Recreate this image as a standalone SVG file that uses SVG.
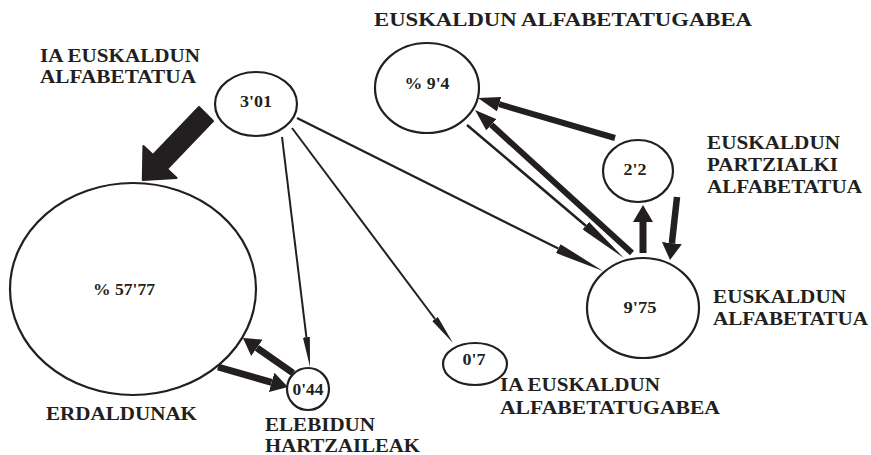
<svg xmlns="http://www.w3.org/2000/svg" width="871" height="455" viewBox="0 0 871 455">
<style>
.node{fill:#fff;stroke:#231f20;stroke-width:2.2}
.lbl{font-family:"Liberation Serif","Times New Roman",serif;font-weight:bold;font-size:19px;fill:#231f20}
.val{font-family:"Liberation Serif","Times New Roman",serif;font-weight:bold;font-size:16px;fill:#231f20;text-anchor:middle}
.c{stroke:#231f20;fill:none;stroke-linecap:butt}
.hd{fill:#231f20}
</style>
<defs>
<marker id="big" markerUnits="userSpaceOnUse" markerWidth="17" markerHeight="20" viewBox="0 0 17 20" refX="0" refY="10" orient="auto"><path class="hd" d="M0,0 L17,10 L0,20 z"/></marker>
<marker id="mid" markerUnits="userSpaceOnUse" markerWidth="22" markerHeight="15" viewBox="0 0 22 15" refX="0" refY="7.5" orient="auto"><path class="hd" d="M0,0 L22,7.5 L0,15 z"/></marker>
<marker id="long" markerUnits="userSpaceOnUse" markerWidth="50" markerHeight="10" viewBox="0 0 50 10" refX="0" refY="5" orient="auto"><path class="hd" d="M0,0 L50,5 L0,10 z"/></marker>
<marker id="thin" markerUnits="userSpaceOnUse" markerWidth="30" markerHeight="7" viewBox="0 0 30 7" refX="0" refY="3.5" orient="auto"><path class="hd" d="M0,0 L30,3.5 L0,7 z"/></marker>
</defs>
<rect width="871" height="455" fill="#fff"/>
<g id="connectors">
<polygon class="hd" stroke="#231f20" stroke-width="2" stroke-linejoin="round" points="199,107 213,121 167,169 176.6,177.9 142.8,180 143.4,146.1 153,155"/>
<line class="c" stroke-width="2" x1="282" y1="137" x2="306.4" y2="337.2" marker-end="url(#thin)"/>
<line class="c" stroke-width="2" x1="292" y1="128" x2="435" y2="319" marker-end="url(#thin)"/>
<line class="c" stroke-width="2.2" x1="297" y1="118" x2="558.3" y2="248.6" marker-end="url(#long)"/>
<line class="c" stroke-width="6" x1="632" y1="253" x2="491.3" y2="124.8" marker-end="url(#mid)"/>
<line class="c" stroke-width="2.5" x1="467" y1="125" x2="585.8" y2="225.7" marker-end="url(#long)"/>
<line class="c" stroke-width="6" x1="615" y1="138" x2="499.1" y2="104.2" marker-end="url(#mid)"/>
<line class="c" stroke-width="7" x1="643" y1="253" x2="643" y2="222" marker-end="url(#big)"/>
<line class="c" stroke-width="6.5" x1="677" y1="197" x2="671.9" y2="243.1" marker-end="url(#big)"/>
<line class="c" stroke-width="7" x1="218" y1="367" x2="271.6" y2="382.3" marker-end="url(#big)"/>
<line class="c" stroke-width="7" x1="293" y1="373" x2="256.9" y2="347.8" marker-end="url(#big)"/>
</g>
<g id="n-ia-alf">
<ellipse class="node" cx="256" cy="104" rx="41" ry="32"/>
<text class="val" x="256" y="107" textLength="32" lengthAdjust="spacingAndGlyphs">3'01</text>
<text class="lbl" x="40" y="62" textLength="160" lengthAdjust="spacingAndGlyphs">IA EUSKALDUN</text>
<text class="lbl" x="40" y="83" textLength="156" lengthAdjust="spacingAndGlyphs">ALFABETATUA</text>
</g>
<g id="n-erdaldunak">
<ellipse class="node" cx="133" cy="289" rx="123" ry="106"/>
<text class="val" x="124" y="295" textLength="62" lengthAdjust="spacingAndGlyphs">% 57'77</text>
<text class="lbl" x="46" y="420" textLength="151" lengthAdjust="spacingAndGlyphs">ERDALDUNAK</text>
</g>
<g id="n-elebidun">
<ellipse class="node" cx="308" cy="389" rx="21" ry="21"/>
<text class="val" x="308" y="395" textLength="31" lengthAdjust="spacingAndGlyphs">0'44</text>
<text class="lbl" x="265" y="431" textLength="110" lengthAdjust="spacingAndGlyphs">ELEBIDUN</text>
<text class="lbl" x="265" y="452" textLength="155" lengthAdjust="spacingAndGlyphs">HARTZAILEAK</text>
</g>
<g id="n-ia-alfgabe">
<ellipse class="node" cx="475" cy="364" rx="32" ry="21"/>
<text class="val" x="474" y="365" textLength="23" lengthAdjust="spacingAndGlyphs">0'7</text>
<text class="lbl" x="500" y="391" textLength="160" lengthAdjust="spacingAndGlyphs">IA EUSKALDUN</text>
<text class="lbl" x="500" y="414" textLength="220" lengthAdjust="spacingAndGlyphs">ALFABETATUGABEA</text>
</g>
<g id="n-alfgabe">
<ellipse class="node" cx="427" cy="88" rx="52" ry="45"/>
<text class="val" x="427" y="89" textLength="45" lengthAdjust="spacingAndGlyphs">% 9'4</text>
<text class="lbl" x="374" y="26" textLength="378" lengthAdjust="spacingAndGlyphs">EUSKALDUN ALFABETATUGABEA</text>
</g>
<g id="n-partzial">
<ellipse class="node" cx="638" cy="171" rx="35" ry="31"/>
<text class="val" x="635" y="175" textLength="23" lengthAdjust="spacingAndGlyphs">2'2</text>
<text class="lbl" x="707" y="149" textLength="133" lengthAdjust="spacingAndGlyphs">EUSKALDUN</text>
<text class="lbl" x="707" y="171" textLength="131" lengthAdjust="spacingAndGlyphs">PARTZIALKI</text>
<text class="lbl" x="707" y="193" textLength="155" lengthAdjust="spacingAndGlyphs">ALFABETATUA</text>
</g>
<g id="n-alf">
<ellipse class="node" cx="643" cy="308" rx="56" ry="50"/>
<text class="val" x="640" y="313" textLength="33" lengthAdjust="spacingAndGlyphs">9'75</text>
<text class="lbl" x="713" y="303" textLength="133" lengthAdjust="spacingAndGlyphs">EUSKALDUN</text>
<text class="lbl" x="713" y="325" textLength="155" lengthAdjust="spacingAndGlyphs">ALFABETATUA</text>
</g>
</svg>
